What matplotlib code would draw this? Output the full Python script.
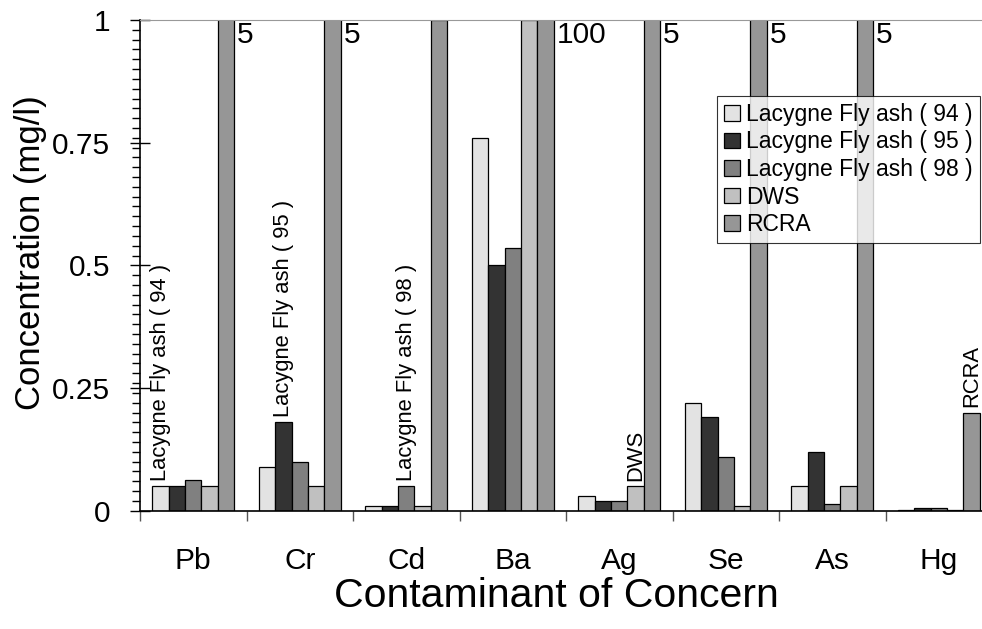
import numpy as np
import matplotlib
matplotlib.use("Agg")
import matplotlib.pyplot as plt
from matplotlib.ticker import MultipleLocator, FixedLocator

plt.rcParams['font.family'] = ['Liberation Sans', 'DejaVu Sans']

# data (mg/l)
metals = ['Pb', 'Cr', 'Cd', 'Ba', 'Ag', 'Se', 'As', 'Hg']
fly_ash_94 = [0.05, 0.09, 0.01, 0.76, 0.03, 0.22, 0.05, 0.0008]
fly_ash_95 = [0.05, 0.18, 0.01, 0.50, 0.02, 0.19, 0.12, 0.005]
fly_ash_98 = [0.063, 0.10, 0.05, 0.535, 0.02, 0.11, 0.014, 0.005]
dws = [0.05, 0.05, 0.01, 1.0, 0.05, 0.01, 0.05, 0.002]
rcra = [5, 5, 1, 100, 5, 5, 5, 0.2]

series = [fly_ash_94, fly_ash_95, fly_ash_98, dws, rcra]
names = ['Lacygne Fly ash ( 94 )', 'Lacygne Fly ash ( 95 )', 'Lacygne Fly ash ( 98 )', 'DWS', 'RCRA']
colors = ['#e3e3e3', '#333333', '#808080', '#c0c0c0', '#969696']

# which bar carries a rotated series label: (series index, metal index)
callouts = [(0, 0), (1, 1), (2, 2), (3, 4), (4, 7)]

fig = plt.figure(figsize=(9.82, 6.29), dpi=100)
ax = fig.add_axes([140 / 982, 1 - 510.7 / 629, 852 / 982, 490.7 / 629])

x = np.arange(len(metals))
w = 0.154
for j, (vals, name, col) in enumerate(zip(series, names, colors)):
    ax.bar(x + (j - 2) * w, vals, w, color=col, edgecolor='black',
           linewidth=0.9, label=name, zorder=2)

# values off the top of the scale
for i, v in enumerate(rcra):
    if v > 1:
        ax.annotate(f'{v:g}', xy=(x[i] + 2.5 * w, 1.0), xytext=(2, -1),
                    textcoords='offset points', ha='left', va='top', fontsize=21.5)

for j, i in callouts:
    ax.annotate(names[j], xy=(x[i] + (j - 2) * w, series[j][i]), xytext=(0, 4),
                textcoords='offset points', rotation=90, ha='center', va='bottom',
                fontsize=15.8)

ax.set_xlim(-0.5, len(metals) - 0.5)
ax.set_ylim(0, 1)

ax.set_xticks(x)
ax.set_xticklabels(metals, fontsize=21.5)
ax.xaxis.set_minor_locator(FixedLocator(np.arange(-0.5, len(metals), 1.0)))
ax.tick_params(axis='x', which='major', length=0, pad=26)
ax.tick_params(axis='x', which='minor', length=7.2, width=1, direction='out', color='#555555')

ax.set_yticks([0, 0.25, 0.5, 0.75, 1])
ax.set_yticklabels(['0', '0.25', '0.5', '0.75', '1'], fontsize=21.5)
ax.yaxis.set_minor_locator(MultipleLocator(0.02))
ax.tick_params(axis='y', which='major', direction='inout', length=14.4, width=1, pad=14.4)
ax.tick_params(axis='y', which='minor', direction='out', length=5.8, width=1)

ax.spines['top'].set_color('#999999')
ax.spines['right'].set_color('#999999')
ax.spines['left'].set_linewidth(1.2)
ax.spines['bottom'].set_linewidth(1.2)

ax.set_ylabel('Concentration (mg/l)', fontsize=25)
ax.yaxis.set_label_coords(-0.109, 0.525)
ax.set_xlabel('Contaminant of Concern', fontsize=29.5)
ax.xaxis.set_label_coords(0.489, -0.135)

leg = ax.legend(loc='upper right', bbox_to_anchor=(980 / 982, 1 - 96 / 629),
                bbox_transform=fig.transFigure, fontsize=16.5, frameon=True,
                fancybox=False, edgecolor='black', borderpad=0.3,
                labelspacing=0.2, handlelength=0.67, handleheight=0.67,
                handletextpad=0.3, borderaxespad=0)
leg.get_frame().set_linewidth(0.8)

fig.savefig('out.png', dpi=100)
